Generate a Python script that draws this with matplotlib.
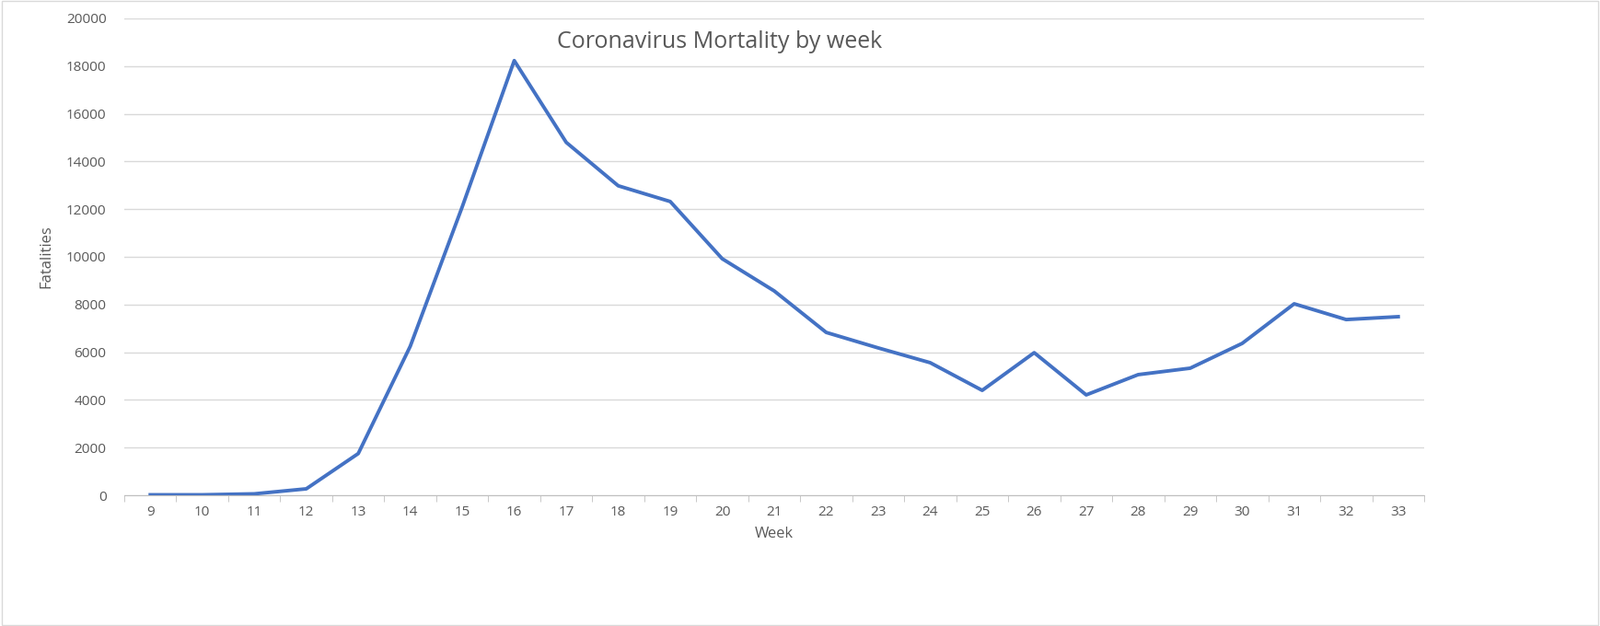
import matplotlib.pyplot as plt
import numpy as np

weeks = list(range(9, 34))
fatalities = [20, 20, 60, 270, 1750, 6250, 12100, 18230, 14800, 12980, 12320, 9920,
              8570, 6830, 6180, 5560, 4400, 5980, 4210, 5060, 5330, 6370, 8030, 7370, 7490]
yticks = list(range(0, 20001, 2000))

plt.rcParams['font.family'] = 'Open Sans'
txt = '#595959'

fig = plt.figure(figsize=(17.38, 6.8), dpi=100)
ax = fig.add_axes([135 / 1738, 1 - 538 / 680, (1547 - 135) / 1738, (538 - 20) / 680])
ax.plot(weeks, fatalities, color='#4472C4', linewidth=2.8, solid_joinstyle='round')

ax.set_xlim(8.5, 33.5)
ax.set_ylim(0, 20000)
ax.set_xticks(weeks)
ax.set_xticks(np.arange(8.5, 34, 1), minor=True)
ax.set_yticks(yticks)
ax.tick_params(axis='x', which='major', length=0, labelsize=11, colors=txt, pad=8)
ax.tick_params(axis='x', which='minor', length=5, color='#bfbfbf')
ax.tick_params(axis='y', length=0, labelsize=11, colors=txt, pad=14)
ax.grid(axis='y', color='#d9d9d9', linewidth=1)
ax.set_axisbelow(True)
for s in ['top', 'right', 'left']:
    ax.spines[s].set_visible(False)
ax.spines['bottom'].set_color('#bfbfbf')

ax.set_xlabel('Week', fontsize=12, color=txt, labelpad=6)
ax.set_ylabel('Fatalities', fontsize=12, color=txt, labelpad=10)
fig.text(782 / 1738, 1 - 45 / 680, 'Coronavirus Mortality by week', fontsize=18,
         color=txt, ha='center', va='center')

fig.patches.append(plt.Rectangle((0.001, 0.001), 0.998, 0.997, transform=fig.transFigure,
                                 fill=False, edgecolor='#d9d9d9', linewidth=1))
fig.savefig('out.png', dpi=100)
